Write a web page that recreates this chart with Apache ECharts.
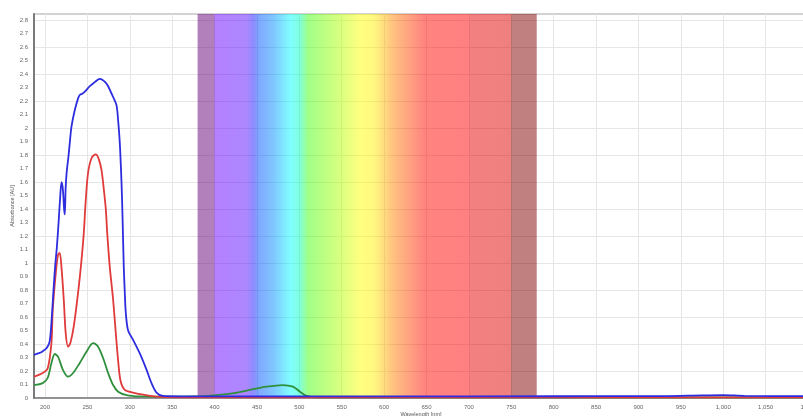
<!DOCTYPE html>
<html>
<head>
<meta charset="utf-8">
<script src="https://cdn.jsdelivr.net/npm/echarts@6/dist/echarts.min.js"></script>
<style>html,body{margin:0;padding:0;background:#fff}#c{width:803px;height:416px}</style>
</head>
<body>
<div id="c"></div>
<script>
// Wavelength (nm) / absorbance (AU) pairs
const blueSeries = [[187,0.32],[192,0.33],[197,0.345],[202,0.37],[205.5,0.42],[208,0.6],[210,0.8],[212,0.98],[214,1.12],[216,1.3],[218,1.5],[219.5,1.6],[221,1.55],[222.5,1.4],[223.3,1.36],[224.3,1.55],[225.5,1.67],[227.5,1.78],[229.2,1.89],[231.2,2.01],[235,2.13],[239,2.22],[241,2.245],[244,2.255],[247,2.27],[252.8,2.31],[258.7,2.34],[262.6,2.36],[265,2.365],[267,2.36],[271,2.34],[274.4,2.31],[280.3,2.23],[284.3,2.17],[286.2,2.06],[288.2,1.89],[290.2,1.6],[291.4,1.35],[292.9,0.97],[294.1,0.78],[295.3,0.63],[298,0.5],[303.9,0.43],[311.8,0.33],[319.7,0.21],[325.6,0.11],[331.5,0.04],[339,0.015],[360,0.012],[450,0.012],[600,0.012],[800,0.013],[930,0.014],[975,0.02],[1000,0.022],[1025,0.016],[1100,0.014]];
const redSeries = [[187,0.158],[197.3,0.185],[203.2,0.22],[207.6,0.41],[209.1,0.65],[212.6,0.92],[215.3,1.06],[217.3,1.075],[219.4,0.97],[222.1,0.73],[224.4,0.48],[227.2,0.38],[230,0.41],[233.9,0.53],[239,0.78],[243,1.02],[245.7,1.22],[248.1,1.47],[250.8,1.67],[255.1,1.78],[259.9,1.805],[263.4,1.77],[266.6,1.69],[269.3,1.55],[271.7,1.4],[273.4,1.22],[276.4,0.97],[280.3,0.73],[283.5,0.48],[286.2,0.28],[289,0.13],[294.1,0.06],[303.5,0.04],[319.7,0.02],[330.7,0.01],[360,0.005],[600,0.004],[1100,0.004]];
const greenSeries = [[187,0.096],[197.3,0.11],[203.2,0.15],[207.6,0.26],[211.5,0.326],[215.3,0.306],[221.2,0.207],[227.2,0.158],[233.1,0.185],[241,0.26],[248.9,0.343],[256.7,0.407],[262.6,0.38],[268.5,0.296],[274.4,0.185],[280.3,0.096],[286.2,0.047],[296.1,0.022],[311.8,0.012],[340,0.01],[382.6,0.012],[402.4,0.022],[421.6,0.035],[441.7,0.06],[461.4,0.084],[480.6,0.096],[492.4,0.084],[500.7,0.047],[508.6,0.015],[520.4,0.005],[600,0.004],[1100,0.004]];
const xTickLabels = [200,250,300,350,400,450,500,550,600,650,700,750,800,850,900,950,1000,1050,1100];
const yTickLabels = [0,0.1,0.2,0.3,0.4,0.5,0.6,0.7,0.8,0.9,1,1.1,1.2,1.3,1.4,1.5,1.6,1.7,1.8,1.9,2,2.1,2.2,2.3,2.4,2.5,2.6,2.7,2.8];
const yGridValues = [0,0.2,0.4,0.6,0.8,1,1.2,1.4,1.6,1.8,2,2.2,2.4,2.6,2.8];
const visibleRange = [380, 780];

const chart = echarts.init(document.getElementById('c'), null, {renderer:'canvas'});
const span = visibleRange[1]-visibleRange[0];
const st = (nm, c) => ({offset:(nm-visibleRange[0])/span, color:c});
const bandGradient = new echarts.graphic.LinearGradient(0,0,1,0,[
  st(380,'#640076'), st(399.8,'#640076'),
  st(400,'#6a00ff'), st(438,'#5a10ff'), st(446,'#1a1aff'),
  st(452,'#0050ff'), st(470,'#0090ff'), st(490,'#00ffff'),
  st(500,'#00ffc0'), st(510,'#40ff10'), st(545,'#a8ff00'),
  st(572,'#ffff00'), st(588,'#fff000'), st(612,'#ff8000'),
  st(648,'#ff0800'), st(699.8,'#ff0000'),
  st(700,'#e80000'), st(749.8,'#e00000'),
  st(750,'#820000'), st(780,'#800000')
]);
const fontFam = 'Liberation Sans, Arial, sans-serif';
chart.setOption({
  animation:false,
  backgroundColor:'#fff',
  grid:{left:34, right:-5, top:14, bottom:18, outerBoundsMode:'none', containLabel:false,
        show:true, borderColor:'#c4c4c4', borderWidth:1.5},
  xAxis:{
    type:'value', min:187, max:1100,
    name:'Wavelength [nm]', nameLocation:'middle', nameGap:13, nameMoveOverlap:false,
    nameTextStyle:{fontSize:5.5, color:'#555', fontFamily:fontFam},
    axisLine:{show:true, onZero:false, lineStyle:{color:'#7a7a7a', width:1.5}},
    axisTick:{show:false, customValues:xTickLabels},
    axisLabel:{customValues:xTickLabels, fontSize:6, color:'#666', margin:6, fontFamily:fontFam,
      formatter:v=>v>=1000?(Math.floor(v/1000)+','+String(v%1000).padStart(3,'0')):String(v)},
    splitLine:{show:true, lineStyle:{color:'#e6e6e6', width:1}}
  },
  yAxis:{
    type:'value', min:0, max:2.845,
    name:'Absorbance [AU]', nameLocation:'middle', nameGap:19, nameRotate:90, nameMoveOverlap:false,
    nameTextStyle:{fontSize:5.5, color:'#555', fontFamily:fontFam},
    axisLine:{show:true, lineStyle:{color:'#7a7a7a', width:2}},
    axisTick:{show:false, customValues:yGridValues},
    axisLabel:{customValues:yTickLabels, fontSize:6, color:'#666', margin:6, fontFamily:fontFam,
      formatter:v=>String(Math.round(v*10)/10)},
    splitLine:{show:true, lineStyle:{color:'#e6e6e6', width:1}}
  },
  series:[
    {type:'line', data:[], z:1, silent:true,
     markArea:{silent:true, itemStyle:{color:bandGradient, opacity:0.5},
       data:[[{xAxis:visibleRange[0]},{xAxis:visibleRange[1]}]]}},
    {type:'line', data:greenSeries, showSymbol:false, smooth:0.3, z:3,
     lineStyle:{color:'#2f8f3c', width:1.8}},
    {type:'line', data:redSeries, showSymbol:false, smooth:0.3, z:4,
     lineStyle:{color:'#e03a3a', width:1.8}},
    {type:'line', data:blueSeries, showSymbol:false, smooth:0.3, z:5,
     lineStyle:{color:'#2d2ddf', width:1.8}}
  ]
});
</script>
</body>
</html>
